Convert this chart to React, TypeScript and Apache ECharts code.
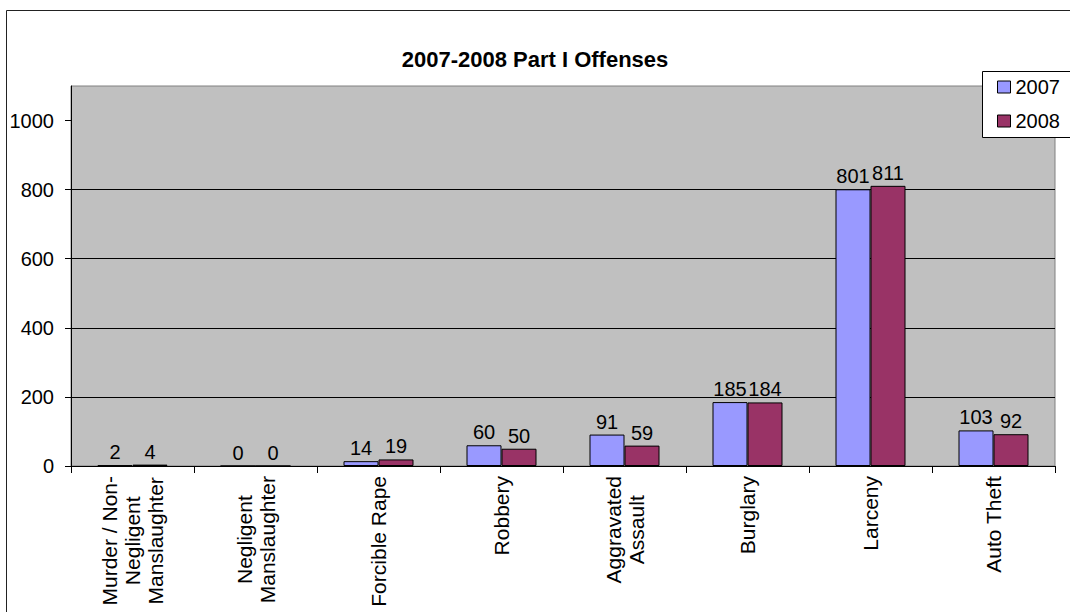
import React, { useEffect, useRef } from "react";
import * as echarts from "echarts";

const categories: string[][] = [
  ["Murder / Non-", "Negligent", "Manslaughter"],
  ["Negligent", "Manslaughter"],
  ["Forcible Rape"],
  ["Robbery"],
  ["Aggravated", "Assault"],
  ["Burglary"],
  ["Larceny"],
  ["Auto Theft"],
];
const values2007: number[] = [2, 0, 14, 60, 91, 185, 801, 103];
const values2008: number[] = [4, 0, 19, 50, 59, 184, 811, 92];
const yTicks: number[] = [0, 200, 400, 600, 800, 1000];
const seriesNames = ["2007", "2008"];
const titleText = "2007-2008 Part I Offenses";

const FONT = "'Liberation Sans', Arial, sans-serif";

export default function App() {
  const ref = useRef<HTMLDivElement>(null);
  useEffect(() => {
    document.body.style.margin = "0";
    if (!ref.current) return;
    const chart = echarts.init(ref.current, null, { renderer: "svg" });
    const catLabels = categories.map((lines) => lines.join("\n"));
    const labelStyle = {
      show: true,
      position: "top",
      distance: 3,
      fontSize: 20,
      fontFamily: FONT,
      color: "#000",
    };
    const option: any = {
      animation: false,
      backgroundColor: "#ffffff",
      textStyle: { fontFamily: FONT },
      title: {
        text: titleText,
        left: "center",
        top: 48,
        padding: 0,
        textStyle: { fontFamily: FONT, fontWeight: "bold", fontSize: 22, color: "#000" },
      },
      graphic: [
        {
          type: "rect",
          silent: true,
          z: -10,
          shape: { x: 6.5, y: 10.5, width: 1200, height: 800 },
          style: { fill: "none", stroke: "#222", lineWidth: 1 },
        },
        {
          type: "rect",
          silent: true,
          z: 5,
          shape: { x: 982.5, y: 71.5, width: 200, height: 66 },
          style: { fill: "#ffffff", stroke: "#000", lineWidth: 1 },
        },
      ],
      legend: {
        data: seriesNames,
        orient: "vertical",
        left: 997,
        top: 77,
        padding: 0,
        itemGap: 14,
        itemWidth: 13,
        itemHeight: 12,
        icon: "rect",
        z: 10,
        itemStyle: { borderColor: "#000", borderWidth: 1 },
        textStyle: { fontFamily: FONT, fontSize: 20, color: "#000", lineHeight: 20 },
      },
      grid: {
        left: 71,
        top: 86,
        right: 15,
        bottom: 146,
        show: true,
        backgroundColor: "#C0C0C0",
        borderColor: "#808080",
        borderWidth: 1,
      },
      xAxis: {
        type: "category",
        data: catLabels,
        axisLine: { lineStyle: { color: "#000", width: 1 } },
        axisTick: { show: true, length: 7, lineStyle: { color: "#000" } },
        axisLabel: {
          interval: 0,
          rotate: 90,
          margin: 10,
          formatter: (v: string) =>
            v
              .split("\n")
              .map((l) => "{c|" + l + "}")
              .join("\n"),
          rich: {
            c: { align: "center", fontSize: 21, fontFamily: FONT, color: "#000", lineHeight: 23 },
          },
        },
      },
      yAxis: {
        type: "value",
        min: 0,
        max: 1100,
        interval: 200,
        axisLine: { show: true, lineStyle: { color: "#000", width: 1 } },
        axisTick: { show: true, length: 6, lineStyle: { color: "#000" }, customValues: yTicks },
        axisLabel: {
          margin: 17,
          fontSize: 20,
          fontFamily: FONT,
          color: "#000",
          customValues: yTicks,
          formatter: (v: number) => String(v),
        },
        splitLine: { show: true, showMaxLine: false, lineStyle: { color: "#000", width: 1 } },
      },
      series: [
        {
          name: seriesNames[0],
          type: "bar",
          data: values2007,
          barWidth: 35,
          barGap: "0%",
          itemStyle: { color: "#9999FF", borderColor: "#000", borderWidth: 1 },
          label: labelStyle,
        },
        {
          name: seriesNames[1],
          type: "bar",
          data: values2008,
          barWidth: 35,
          barGap: "0%",
          itemStyle: { color: "#993366", borderColor: "#000", borderWidth: 1 },
          label: labelStyle,
        },
      ],
    };
    chart.setOption(option);
    return () => chart.dispose();
  }, []);
  return <div ref={ref} style={{ width: 1070, height: 612 }} />;
}
